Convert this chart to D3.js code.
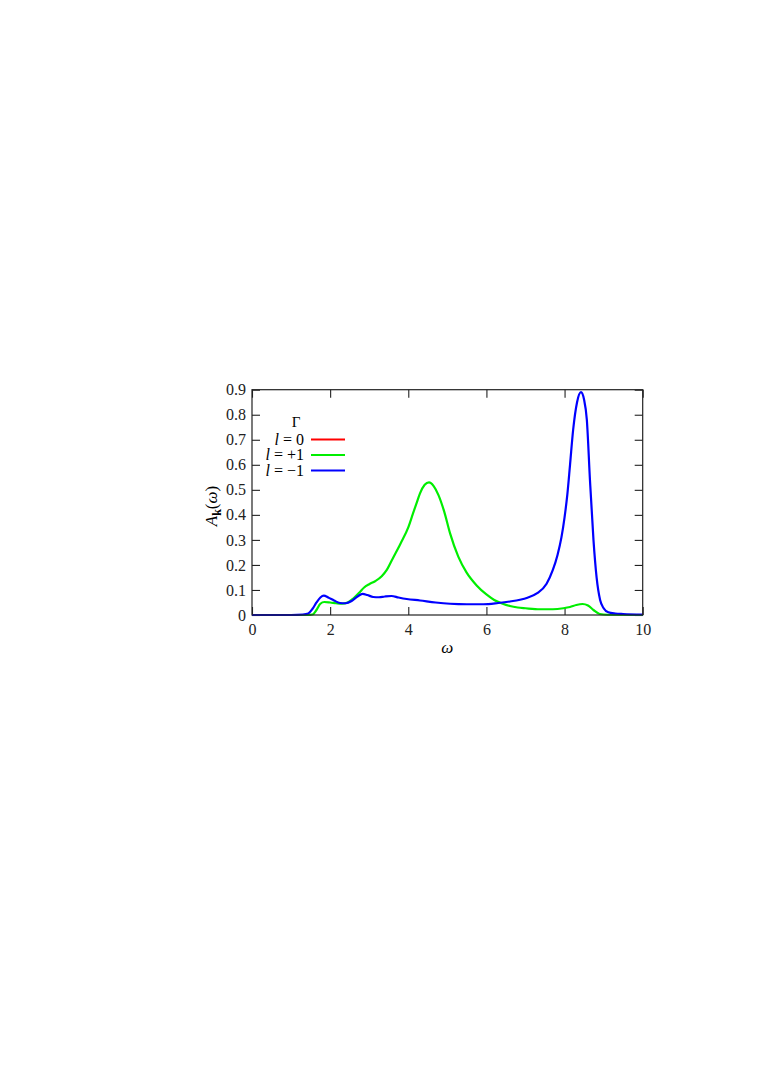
<!DOCTYPE html>
<html>
<head>
<meta charset="utf-8">
<script src="https://cdn.jsdelivr.net/npm/d3@7"></script>
<style>
  body { margin: 0; background: #fff; }
  svg { font-family: "Liberation Serif", "DejaVu Serif", serif; }
</style>
</head>
<body>
<div id="chart"></div>
<script>
// spectral function at Gamma
const omegaMinus = [0, 1.0, 1.3, 1.44, 1.55, 1.65, 1.75, 1.84, 1.95, 2.1, 2.25, 2.4, 2.55, 2.7, 2.83, 2.95, 3.1, 3.25, 3.4, 3.57, 3.75, 3.96, 4.3, 4.7, 5.07, 5.5, 5.92, 6.3, 6.6, 6.86, 7.05, 7.3, 7.54, 7.7, 7.82, 7.92, 8.0, 8.07, 8.14, 8.22, 8.32, 8.42, 8.5, 8.57, 8.65, 8.74, 8.82, 8.91, 9.0, 9.12, 9.3, 9.5, 10];
const aMinus = [0, 0, 0.002, 0.006, 0.025, 0.05, 0.07, 0.077, 0.07, 0.058, 0.048, 0.047, 0.056, 0.074, 0.084, 0.08, 0.072, 0.071, 0.074, 0.076, 0.07, 0.064, 0.058, 0.05, 0.045, 0.043, 0.043, 0.048, 0.054, 0.061, 0.069, 0.087, 0.125, 0.18, 0.24, 0.31, 0.39, 0.48, 0.6, 0.74, 0.85, 0.89, 0.86, 0.78, 0.54, 0.30, 0.15, 0.06, 0.027, 0.011, 0.006, 0.004, 0.002];

const omegaPlus = [0, 1.4, 1.55, 1.65, 1.75, 1.85, 2.0, 2.15, 2.3, 2.45, 2.6, 2.75, 2.87, 3.0, 3.15, 3.32, 3.45, 3.6, 3.8, 4.0, 4.13, 4.21, 4.3, 4.42, 4.53, 4.65, 4.77, 4.92, 5.07, 5.28, 5.49, 5.75, 6.0, 6.2, 6.4, 6.6, 6.8, 7.0, 7.37, 7.7, 7.97, 8.14, 8.3, 8.46, 8.6, 8.74, 8.9, 9.1, 10];
const aPlus = [0, 0, 0.002, 0.02, 0.045, 0.052, 0.05, 0.047, 0.045, 0.05, 0.067, 0.09, 0.11, 0.123, 0.135, 0.155, 0.18, 0.225, 0.285, 0.35, 0.41, 0.446, 0.486, 0.52, 0.53, 0.515, 0.48, 0.413, 0.326, 0.233, 0.17, 0.118, 0.082, 0.06, 0.046, 0.036, 0.03, 0.027, 0.023, 0.023, 0.027, 0.032, 0.04, 0.044, 0.038, 0.02, 0.004, 0.001, 0];

const legendLabels = ["0", "+1", "\u22121"];
const legendColors = ["#ff0000", "#00ee00", "#0000ff"];
const xTicks = [0, 2, 4, 6, 8, 10];
const yTicks = [0, 0.1, 0.2, 0.3, 0.4, 0.5, 0.6, 0.7, 0.8, 0.9];

let margin = {top: 389.7, left: 252};
let width = 390.7, height = 225.3;

let svg = d3.select("#chart").append("svg")
    .attr("width", 763)
    .attr("height", 1078);

let g = svg.append("g")
    .attr("transform", `translate(${margin.left},${margin.top})`);

let x = d3.scaleLinear([0, 10], [0, width]);
let y = d3.scaleLinear([0, 0.9], [height, 0]);

let fmt = d => d === 0 ? "0" : d3.format(".1f")(d);

// axes, ticks pointing inward
g.append("g")
    .attr("transform", `translate(0,${height})`)
    .call(d3.axisBottom(x).tickValues(xTicks).tickSizeInner(-8).tickSizeOuter(0).tickPadding(9))
    .call(a => a.select(".domain").remove());
g.append("g")
    .call(d3.axisTop(x).tickValues(xTicks).tickSizeInner(-8).tickSizeOuter(0).tickFormat(""))
    .call(a => a.select(".domain").remove());
g.append("g")
    .call(d3.axisLeft(y).tickValues(yTicks).tickSizeInner(-8).tickSizeOuter(0).tickPadding(6).tickFormat(fmt))
    .call(a => a.select(".domain").remove());
g.append("g")
    .attr("transform", `translate(${width},0)`)
    .call(d3.axisRight(y).tickValues(yTicks).tickSizeInner(-8).tickSizeOuter(0).tickFormat(""))
    .call(a => a.select(".domain").remove());

g.selectAll(".tick line").attr("stroke", "#222").attr("stroke-width", 1.1);
g.selectAll(".tick text").attr("font-size", 16).attr("fill", "#222")
    .attr("font-family", "Liberation Serif, serif");

// curves (l = 0 lies under the others)
let line = d3.line()
    .x(d => x(d[0]))
    .y(d => y(d[1]))
    .curve(d3.curveMonotoneX);

let series = [
    {om: omegaPlus, a: aPlus, color: legendColors[1]},
    {om: omegaMinus, a: aMinus, color: legendColors[2]}
];
series.forEach(s => {
    g.append("path")
        .datum(d3.zip(s.om, s.a))
        .attr("fill", "none")
        .attr("stroke", s.color)
        .attr("stroke-width", 2.2)
        .attr("stroke-linejoin", "round")
        .attr("d", line);
});

// frame
g.append("rect")
    .attr("width", width).attr("height", height)
    .attr("fill", "none").attr("stroke", "#222").attr("stroke-width", 1.2);

// axis titles
svg.append("text")
    .attr("x", margin.left + x(5.0)).attr("y", 653)
    .attr("text-anchor", "middle").attr("font-size", 17).attr("font-style", "italic")
    .text("\u03c9");

let yl = svg.append("text")
    .attr("transform", "translate(217,506) rotate(-90)")
    .attr("text-anchor", "middle").attr("font-size", 17);
yl.append("tspan").attr("font-style", "italic").text("A");
yl.append("tspan").attr("font-weight", "bold").attr("font-size", 12).attr("dy", 4).text("k");
yl.append("tspan").attr("dy", -4).text("(");
yl.append("tspan").attr("font-style", "italic").text("\u03c9");
yl.append("tspan").text(")");

// legend
svg.append("text")
    .attr("x", 296).attr("y", 427)
    .attr("text-anchor", "middle").attr("font-size", 15)
    .text("\u0393");

legendLabels.forEach((lab, i) => {
    let yy = 439.5 + i * 15.5;
    let t = svg.append("text")
        .attr("x", 304).attr("y", yy + 5)
        .attr("text-anchor", "end").attr("font-size", 16);
    t.append("tspan").attr("font-style", "italic").text("l");
    t.append("tspan").text(" = " + lab);
    svg.append("line")
        .attr("x1", 311).attr("x2", 345)
        .attr("y1", yy).attr("y2", yy)
        .attr("stroke", legendColors[i]).attr("stroke-width", 2.2);
});
</script>
</body>
</html>
